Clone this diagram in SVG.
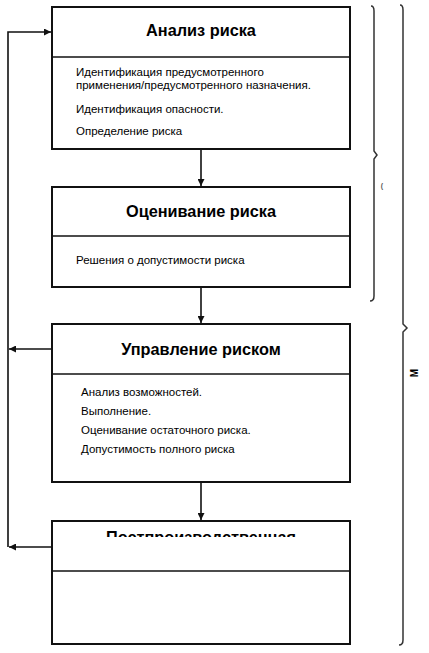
<svg xmlns="http://www.w3.org/2000/svg" width="429" height="653" viewBox="0 0 429 653">
<style>
.box{fill:#fff;stroke:#111;stroke-width:2}
.div{stroke:#111;stroke-width:1.6}
.title{font-family:"Liberation Sans",Arial,sans-serif;font-weight:bold;font-size:16.3px;fill:#000;text-anchor:middle}
.body{font-family:"Liberation Sans",Arial,sans-serif;font-size:11.5px;fill:#000}
.conn{fill:none;stroke:#111;stroke-width:1.6}
.brace{fill:none;stroke:#333;stroke-width:1.5}
</style>
<defs>
<marker id="ah" viewBox="0 0 10 10" refX="10" refY="5" markerWidth="10" markerHeight="7" markerUnits="userSpaceOnUse" orient="auto">
<path d="M0,0 L10,5 L0,10 z" fill="#111"/>
</marker>
<clipPath id="clip4"><rect x="52" y="521" width="298" height="16"/></clipPath>
</defs>

<g id="connectors">
<line class="conn" x1="201" y1="149" x2="201" y2="186" marker-end="url(#ah)"/>
<line class="conn" x1="201" y1="287" x2="201" y2="323" marker-end="url(#ah)"/>
<line class="conn" x1="201" y1="482" x2="201" y2="520" marker-end="url(#ah)"/>
<polyline class="conn" points="8,547 8,32 51,32" marker-end="url(#ah)"/>
<line class="conn" x1="52" y1="349" x2="9" y2="349" marker-end="url(#ah)"/>
<line class="conn" x1="52" y1="547" x2="9" y2="547" marker-end="url(#ah)"/>
</g>

<g id="node-analysis">
<rect class="box" x="52" y="7" width="298" height="142"/>
<line class="div" x1="52" y1="57" x2="350" y2="57"/>
<text class="title" x="201" y="36">Анализ риска</text>
<text class="body" x="76" y="76">Идентификация предусмотренного</text>
<text class="body" x="76" y="89">применения/предусмотренного назначения.</text>
<text class="body" x="76" y="113">Идентификация опасности.</text>
<text class="body" x="76" y="135">Определение риска</text>
</g>

<g id="node-evaluation">
<rect class="box" x="52" y="187" width="298" height="100"/>
<line class="div" x1="52" y1="236" x2="350" y2="236"/>
<text class="title" x="201" y="217">Оценивание риска</text>
<text class="body" x="76" y="264">Решения о допустимости риска</text>
</g>

<g id="node-control">
<rect class="box" x="52" y="324" width="298" height="158"/>
<line class="div" x1="52" y1="374" x2="350" y2="374"/>
<text class="title" x="201" y="355">Управление риском</text>
<text class="body" x="81" y="396">Анализ возможностей.</text>
<text class="body" x="81" y="415">Выполнение.</text>
<text class="body" x="81" y="434">Оценивание остаточного риска.</text>
<text class="body" x="81" y="453">Допустимость полного риска</text>
</g>

<g id="node-postproduction">
<rect class="box" x="52" y="521" width="298" height="123"/>
<line class="div" x1="52" y1="571" x2="350" y2="571"/>
<text class="title" x="201" y="543" clip-path="url(#clip4)">Постпроизводственная</text>
</g>

<g id="braces">
<path class="brace" d="M371,6 Q374,6 374,11 L374,151 L377,155 L374,159 L374,296 Q374,301 370,301"/>
<text x="382" y="188" font-family="Liberation Sans, Arial, sans-serif" font-size="7" font-weight="bold" fill="#555" text-anchor="middle">(</text>
<path class="brace" d="M400,5 Q403,5 403,10 L403,324 L407,328 L403,332 L403,640 Q403,645 399,645"/>
<text transform="translate(415,373) rotate(-90)" font-family="Liberation Sans, Arial, sans-serif" font-size="10" font-weight="bold" fill="#000" text-anchor="middle" dominant-baseline="middle">М</text>
</g>
</svg>
